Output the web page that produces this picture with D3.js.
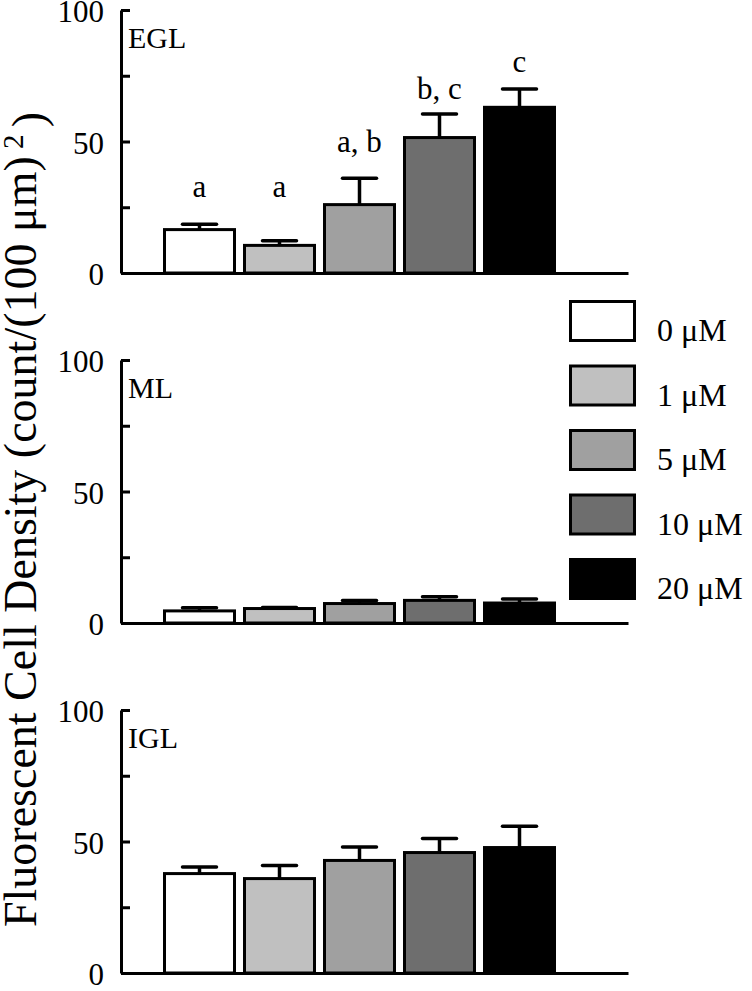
<!DOCTYPE html>
<meta charset="utf-8">
<script src="https://d3js.org/d3.v7.min.js"></script>
<body style="margin:0;background:#fff">
<script>

// data
var doses = ["0 μM", "1 μM", "5 μM", "10 μM", "20 μM"];
var fills = ["#ffffff", "#c0c0c0", "#a0a0a0", "#6e6e6e", "#000000"];
var layers = ["EGL", "ML", "IGL"];
var eglMean = [16.5, 10.5, 26, 51.5, 63];
var eglErr = [2, 1.8, 10, 9, 7];
var mlMean = [4.6, 5.5, 7.4, 8.6, 7.6];
var mlErr = [1.2, 0.4, 1.2, 1.4, 1.5];
var iglMean = [37.8, 35.9, 42.8, 45.8, 47.7];
var iglErr = [2.5, 5, 5.1, 5.3, 8.1];
var eglLetters = ["a", "a", "a, b", "b, c", "c"];
var eglLetterAt = [29, 29, 46, 66, 76.5];
var yTicks = [0, 25, 50, 75, 100];
var yLabeled = [0, 50, 100];

var width = 752, height = 991;
var serif = "'Liberation Serif'";
var panelBase = [273, 623, 973];
var panelH = 263;
var means = [eglMean, mlMean, iglMean];
var errs = [eglErr, mlErr, iglErr];

var svg = d3.select("body").append("svg")
    .attr("width", width)
    .attr("height", height);

var x = d3.scaleBand().domain(doses).range([159.5, 559.5])
    .paddingInner(0.0875).paddingOuter(0.04375);
var frameX = d3.scaleLinear().domain([0, 1]).range([121, 628]);
var color = d3.scaleOrdinal().domain(doses).range(fills);

function styleAxis(a) {
    a.selectAll("path, line").style("stroke", "#000").style("stroke-width", 3).style("fill", "none");
    a.selectAll("text").style("font-family", serif).style("font-size", "31px")
        .style("fill", "#000").attr("dy", "0.38em");
}

layers.forEach(function(layer, p) {
    var y = d3.scaleLinear().domain([0, 100]).range([panelBase[p], panelBase[p] - panelH]);
    var g = svg.append("g");

    var rows = doses.map(function(d, i) { return {dose: d, mean: means[p][i], err: errs[p][i]}; });

    // error bars (upper only)
    var eb = g.selectAll(".err").data(rows).enter().append("g").attr("class", "err");
    eb.append("line")
        .attr("x1", function(d) { return x(d.dose) + x.bandwidth() / 2; })
        .attr("x2", function(d) { return x(d.dose) + x.bandwidth() / 2; })
        .attr("y1", function(d) { return y(d.mean); })
        .attr("y2", function(d) { return y(d.mean + d.err); })
        .style("stroke", "#000").style("stroke-width", 3.5);
    eb.append("line")
        .attr("x1", function(d) { return x(d.dose) + x.bandwidth() / 2 - 17; })
        .attr("x2", function(d) { return x(d.dose) + x.bandwidth() / 2 + 17; })
        .attr("y1", function(d) { return y(d.mean + d.err); })
        .attr("y2", function(d) { return y(d.mean + d.err); })
        .style("stroke", "#000").style("stroke-width", 3.5)
        .style("stroke-linecap", "round");

    g.selectAll(".bar").data(rows).enter().append("rect").attr("class", "bar")
        .attr("x", function(d) { return x(d.dose) + 1.5; })
        .attr("y", function(d) { return y(d.mean); })
        .attr("width", x.bandwidth() - 3)
        .attr("height", function(d) { return y(0) - y(d.mean); })
        .style("fill", function(d) { return color(d.dose); })
        .style("stroke", "#000").style("stroke-width", 3);

    // y axis with inward ticks
    g.append("g")
        .attr("transform", "translate(" + frameX(0) + ",0)")
        .call(d3.axisLeft(y).tickValues(yTicks).tickSizeInner(-9).tickSizeOuter(0).tickPadding(17)
            .tickFormat(function(v) { return yLabeled.indexOf(v) >= 0 ? v : ""; }))
        .call(styleAxis);

    // x axis baseline
    g.append("g")
        .attr("transform", "translate(0," + y(0) + ")")
        .call(d3.axisBottom(frameX).tickValues([]).tickSizeOuter(0))
        .call(styleAxis);

    g.append("text")
        .attr("x", 128)
        .attr("y", y(100) + 38)
        .style("font-family", serif)
        .style("font-size", "30px")
        .text(layer);

    if (p === 0) {
        g.selectAll(".sig").data(eglLetters).enter().append("text").attr("class", "sig")
            .attr("x", function(d, i) { return x(doses[i]) + x.bandwidth() / 2; })
            .attr("y", function(d, i) { return y(eglLetterAt[i]); })
            .style("text-anchor", "middle")
            .style("font-family", serif)
            .style("font-size", "31px")
            .text(function(d) { return d; });
    }
});

// legend
var ly = d3.scalePoint().domain(doses).range([300, 558]);
var legend = svg.selectAll(".legend").data(doses).enter().append("g").attr("class", "legend");
legend.append("rect")
    .attr("x", 570.5).attr("y", function(d) { return ly(d) + 1.5; })
    .attr("width", 64).attr("height", 39)
    .style("fill", function(d) { return color(d); })
    .style("stroke", "#000").style("stroke-width", 3);
legend.append("text")
    .attr("x", 657).attr("y", function(d) { return ly(d) + 41; })
    .style("font-family", serif)
    .style("font-size", "32px")
    .text(function(d) { return d; });

// y title
var title = svg.append("text")
    .attr("transform", "translate(36,927) rotate(-90)")
    .style("font-family", serif)
    .style("font-size", "46px");
title.append("tspan").text("Fluorescent Cell Density (count/(100 μm)");
title.append("tspan").attr("dy", "-0.45em").style("font-size", "29px").text(" 2 ");
title.append("tspan").attr("dy", "0.45em").text(")");

</script>
</body>
</html>
